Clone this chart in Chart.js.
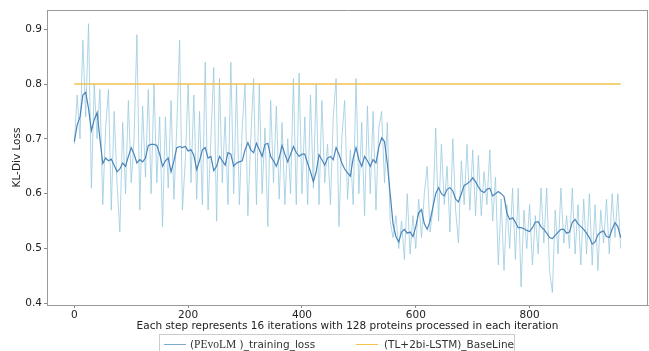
<!DOCTYPE html>
<html>
<head>
<meta charset="utf-8">
<script src="https://cdn.jsdelivr.net/npm/chart.js@4.4.1/dist/chart.umd.min.js"></script>
<style>
  body{margin:0;background:#fff;}
  #wrap{position:relative;width:649px;height:351px;overflow:hidden;}
  #legend{position:absolute;left:159px;top:334px;width:356px;height:30px;border:1px solid #ccc;box-sizing:border-box;
    font-family:"DejaVu Sans",sans-serif;font-size:10.5px;color:#333;}
  .item{position:absolute;top:3px;line-height:12px;white-space:nowrap;}
  .swatch{position:absolute;top:9px;height:0;border-top:1.5px solid;width:22px;}
  .serif{font-family:"Liberation Serif","DejaVu Serif",serif;font-size:11.5px;}
</style>
</head>
<body>
<div id="wrap">
<canvas id="myChart" width="649" height="351"></canvas>
<div id="legend">
  <span class="swatch" style="left:4px;border-color:#7aa9cf"></span>
  <span class="item" style="left:30px">(<span class="serif">PEvoLM</span> )_training_loss</span>
  <span class="swatch" style="left:196px;border-color:#f2c14e"></span>
  <span class="item" style="left:224px">(TL+2bi-LSTM)_BaseLine</span>
</div>
</div>
<script>
// raw loss, one value every 5 steps (0..960)
const rawLoss = [
  0.69,0.78,0.70,0.88,0.74,0.91,0.61,0.80,0.70,0.79,
  0.58,0.72,0.79,0.57,0.75,0.62,0.53,0.73,0.60,0.77,
  0.62,0.70,0.89,0.57,0.76,0.63,0.79,0.60,0.80,0.62,
  0.74,0.54,0.74,0.61,0.77,0.59,0.72,0.88,0.57,0.66,
  0.80,0.62,0.78,0.59,0.75,0.58,0.84,0.57,0.70,0.83,
  0.55,0.81,0.62,0.74,0.58,0.84,0.60,0.80,0.58,0.72,
  0.80,0.56,0.70,0.81,0.58,0.80,0.60,0.72,0.54,0.77,
  0.62,0.76,0.59,0.73,0.58,0.70,0.60,0.81,0.58,0.82,
  0.60,0.74,0.58,0.78,0.61,0.80,0.58,0.77,0.62,0.69,
  0.58,0.74,0.81,0.54,0.70,0.77,0.59,0.68,0.58,0.81,
  0.60,0.73,0.56,0.76,0.60,0.75,0.57,0.72,0.75,0.62,
  0.73,0.55,0.52,0.56,0.50,0.55,0.48,0.60,0.49,0.56,
  0.50,0.59,0.52,0.60,0.65,0.53,0.57,0.72,0.55,0.69,
  0.58,0.65,0.53,0.70,0.57,0.51,0.66,0.58,0.69,0.57,
  0.68,0.56,0.67,0.56,0.64,0.58,0.68,0.55,0.63,0.47,
  0.59,0.46,0.58,0.50,0.61,0.48,0.61,0.43,0.57,0.50,
  0.58,0.47,0.56,0.49,0.61,0.51,0.61,0.46,0.42,0.57,
  0.49,0.61,0.51,0.56,0.50,0.61,0.49,0.58,0.47,0.59,
  0.49,0.60,0.47,0.58,0.46,0.57,0.51,0.59,0.49,0.60,
  0.52,0.60,0.50
];
// smoothed loss, same steps
const smoothLoss = [
  0.695,0.725,0.740,0.780,0.785,0.755,0.715,0.735,0.748,0.700,
  0.655,0.665,0.660,0.663,0.652,0.640,0.645,0.656,0.650,0.668,
  0.684,0.672,0.656,0.662,0.658,0.665,0.688,0.690,0.690,0.688,
  0.672,0.650,0.660,0.665,0.640,0.660,0.684,0.686,0.684,0.686,
  0.678,0.680,0.670,0.644,0.660,0.680,0.684,0.665,0.668,0.642,
  0.650,0.668,0.660,0.652,0.675,0.672,0.650,0.656,0.658,0.660,
  0.680,0.693,0.680,0.675,0.692,0.680,0.668,0.690,0.692,0.668,
  0.660,0.650,0.665,0.688,0.672,0.658,0.672,0.686,0.675,0.668,
  0.672,0.672,0.655,0.640,0.622,0.640,0.671,0.662,0.652,0.665,
  0.668,0.662,0.684,0.672,0.656,0.645,0.638,0.632,0.665,0.684,
  0.662,0.650,0.668,0.660,0.650,0.662,0.656,0.685,0.702,0.695,
  0.655,0.600,0.545,0.522,0.512,0.530,0.535,0.528,0.530,0.522,
  0.540,0.565,0.571,0.545,0.535,0.550,0.575,0.600,0.611,0.600,
  0.596,0.608,0.611,0.605,0.590,0.585,0.600,0.615,0.618,0.622,
  0.629,0.622,0.612,0.605,0.602,0.608,0.610,0.596,0.600,0.604,
  0.600,0.595,0.565,0.553,0.556,0.548,0.538,0.538,0.536,0.533,
  0.531,0.538,0.548,0.549,0.540,0.535,0.528,0.520,0.518,0.524,
  0.530,0.535,0.535,0.528,0.530,0.548,0.553,0.545,0.540,0.535,
  0.528,0.520,0.508,0.512,0.525,0.530,0.532,0.522,0.520,0.535,
  0.547,0.540,0.520
];
const stepSize = 5;
const steps = rawLoss.map((_, i) => i * stepSize);
const baselineSteps = [0, 960];
const baselineValues = [0.8, 0.8];
const xTicks = [0, 200, 400, 600, 800];
const yTicks = [0.4, 0.5, 0.6, 0.7, 0.8, 0.9];

const font = {family: 'DejaVu Sans', size: 10.5};

const frame = {
  id: 'frame',
  beforeDatasetsDraw(chart){
    const a = chart.chartArea, ctx = chart.ctx;
    ctx.save();
    ctx.strokeStyle = '#9a9a9a';
    ctx.lineWidth = 1;
    ctx.beginPath();
    ctx.moveTo(a.left, a.top + 0.5);
    ctx.lineTo(a.right, a.top + 0.5);
    ctx.moveTo(a.right - 0.5, a.top);
    ctx.lineTo(a.right - 0.5, a.bottom);
    ctx.stroke();
    ctx.restore();
  }
};

new Chart(document.getElementById('myChart'), {
  type: 'line',
  data: {
    datasets: [
      {
        label: '(TL+2bi-LSTM)_BaseLine',
        data: baselineSteps.map((s, i) => ({x: s, y: baselineValues[i]})),
        borderColor: '#f2c14e', borderWidth: 1.3, pointRadius: 0, order: 0
      },
      {
        label: 'smoothed',
        data: steps.map((s, i) => ({x: s, y: smoothLoss[i]})),
        borderColor: '#4a84b8', borderWidth: 1.2, pointRadius: 0, order: 1
      },
      {
        label: '(PEvoLM )_training_loss',
        data: steps.map((s, i) => ({x: s, y: rawLoss[i]})),
        borderColor: 'rgba(150,200,222,0.85)', borderWidth: 0.9, pointRadius: 0, order: 2
      }
    ]
  },
  options: {
    responsive: false,
    animation: false,
    layout: {padding: {top: 10, right: 1, left: 0, bottom: 0}},
    plugins: {legend: {display: false}, tooltip: {enabled: false}},
    scales: {
      x: {
        type: 'linear', min: -48, max: 1008,
        afterFit(s){ s.height = 46; },
        afterBuildTicks(s){ s.ticks = xTicks.map(v => ({value: v})); },
        grid: {drawOnChartArea: false, drawTicks: true, tickLength: 3, color: '#888'},
        border: {color: '#9a9a9a'},
        ticks: {font, color: '#222', padding: 1, maxRotation: 0},
        title: {display: true, text: 'Each step represents 16 iterations with 128 proteins processed in each iteration',
                font, color: '#222', padding: {top: 0, bottom: 18}}
      },
      y: {
        min: 0.397, max: 0.935,
        afterFit(s){ s.width = 47; },
        afterBuildTicks(s){ s.ticks = yTicks.map(v => ({value: v})); },
        grid: {drawOnChartArea: false, drawTicks: true, tickLength: 3, color: '#888'},
        border: {color: '#9a9a9a'},
        ticks: {font, color: '#222', padding: 2, callback: v => v.toFixed(1)},
        title: {display: true, text: 'KL-Div Loss', font, color: '#222', padding: {top: 11, bottom: 0}}
      }
    }
  },
  plugins: [frame]
});
</script>
</body>
</html>
